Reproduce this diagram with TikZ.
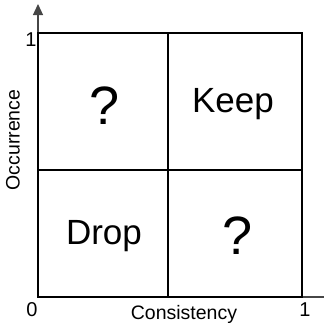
\documentclass[tikz,border=0pt]{standalone}
\usepackage{fontspec}
\setmainfont{Liberation Sans}
\usetikzlibrary{arrows.meta,positioning}
\definecolor{axisgray}{RGB}{70,70,70}

\tikzset{
  quadlabel/.style={font=\fontsize{35}{40}\selectfont},
  asklabel/.style={font=\fontsize{54}{60}\selectfont},
  axislabel/.style={font=\fontsize{19.5}{22}\selectfont},
  ticklabel/.style={font=\fontsize{20}{22}\selectfont},
  gridline/.style={line width=1.3pt,black},
}

\begin{document}
\begin{tikzpicture}[x=1pt,y=-1pt,>=Triangle]
  \useasboundingbox (0,0) rectangle (324,325);
  % corners of the grid and axis ends
  \coordinate (o) at (38,297);
  \coordinate (xr) at (302,297);
  \coordinate (yt) at (38,33);
  \coordinate (tr) at (302,33);
  \coordinate (xend) at (324,297);
  \coordinate (yend) at (38,4);
  \coordinate (mb) at (168,297);
  \coordinate (mt) at (168,33);
  \coordinate (ml) at (38,170);
  \coordinate (mr) at (302,170);
  % axes
  \draw[axisgray,line width=1.1pt] (xr) -- (xend);
  \draw[axisgray,line width=1.1pt,-{Triangle[length=11pt,width=10pt]}] (yt) -- (yend);
  % the square and its midlines
  \draw[gridline] (o) rectangle (tr);
  \draw[gridline] (mb) -- (mt);
  \draw[gridline] (ml) -- (mr);
  % quadrants
  \node[asklabel] (tl) at (105,106) {?};
  \node[quadlabel] (keep) at (233,104) {Keep};
  \node[quadlabel] (drop) at (104,236) {Drop};
  \node[asklabel] (br) at (238,236) {?};
  % ticks and axis names
  \node[ticklabel] (y1) at (31,40) {1};
  \node[ticklabel] (x0) at (32,310) {0};
  \node[ticklabel] (x1) at (305,310) {1};
  \node[axislabel] (xname) at (184,314) {Consistency};
  \node[axislabel,rotate=90] (yname) at (13,140) {Occurrence};
\end{tikzpicture}
\end{document}
